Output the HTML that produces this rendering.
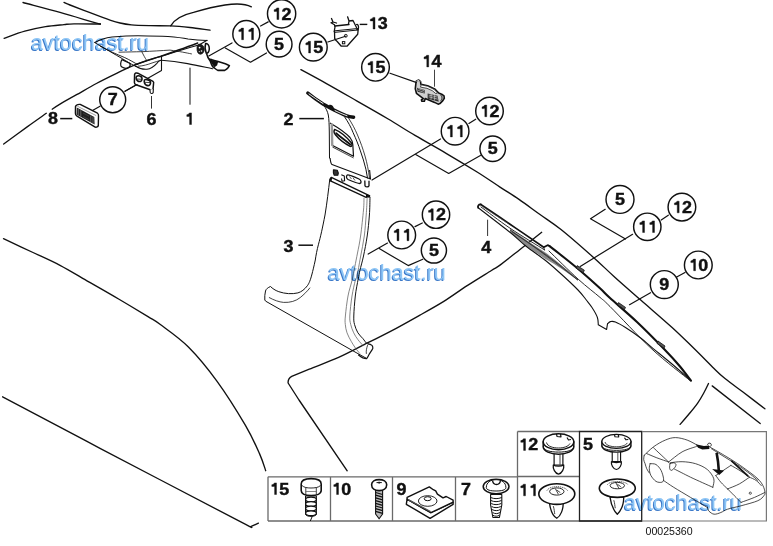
<!DOCTYPE html>
<html><head><meta charset="utf-8"><style>
html,body{margin:0;padding:0;background:#fff;}
body{width:773px;height:546px;overflow:hidden;position:relative;}
svg{position:absolute;left:0;top:0;}
.wm{position:absolute;font-family:"Liberation Sans",sans-serif;font-size:21.7px;color:#8ec6f6;text-shadow:-1px 1px 0 #3b79c9;white-space:nowrap;line-height:1;mix-blend-mode:multiply;}
</style></head><body>
<svg width="773" height="546" viewBox="0 0 773 546" font-family="Liberation Sans, sans-serif">

<g fill="none" stroke="#111" stroke-width="1.35" stroke-linecap="round" stroke-linejoin="round">
<path d="M23.0,2.5 C29.2,4.2 47.9,9.0 60.0,12.4 C72.1,15.8 89.0,21.0 95.7,22.9 C102.4,24.8 99.6,23.8 100.4,24.0"/>
<path d="M4.1,38.3 C7.6,37.1 17.9,33.1 24.8,31.2 C31.7,29.3 39.0,27.8 45.5,26.7 C52.0,25.6 59.2,25.1 64.0,24.6 C68.8,24.1 67.9,24.0 74.0,23.9 C80.1,23.8 96.0,24.0 100.4,24.0"/>
<path d="M64.0,2.4 C65.0,2.8 65.7,3.3 70.0,5.0 C74.3,6.7 83.2,10.0 90.0,12.6 C96.8,15.2 105.7,18.6 110.7,20.3 C115.7,22.0 116.5,22.2 120.0,23.0 C123.5,23.8 126.4,24.4 131.4,24.8 C136.4,25.2 143.4,25.4 150.0,25.6 C156.6,25.8 164.0,25.6 170.7,25.9 C177.4,26.2 183.4,26.8 190.0,27.5 C196.6,28.2 206.7,29.8 210.0,30.2"/>
<path d="M170.7,25.9 C174,20 182,15 193.5,12.4 C205,9 215,6.5 225,5 C238,3 246,4 251.4,6.8"/>
<path d="M3.7,144.0 C7.7,141.1 20.4,131.7 27.5,126.6 C34.6,121.5 43.2,115.5 46.3,113.3"/>
<path d="M52.2,109.2 C53.5,108.3 56.1,106.4 60.0,104.1 C63.9,101.8 69.6,98.6 75.7,95.2 C81.8,91.8 89.5,87.2 96.4,83.5 C103.3,79.8 110.7,76.2 117.1,73.1 C123.5,70.0 127.6,67.7 135.0,64.8 C142.4,61.9 154.2,58.4 161.7,55.9 C169.2,53.4 174.0,51.6 180.0,49.5 C186.0,47.4 194.8,44.1 197.7,43.0"/>
<path d="M300.9,69.6 C305.1,71.9 316.6,78.0 326.0,83.3 C335.4,88.5 346.7,95.1 357.1,101.1 C367.5,107.0 378.6,113.3 388.2,119.0 C397.8,124.7 405.4,129.7 415.0,135.4 C424.6,141.1 435.8,147.2 446.1,153.3 C456.5,159.4 468.1,166.4 477.1,172.0 C486.1,177.6 493.0,182.5 500.0,187.1 C507.0,191.7 512.3,194.8 519.0,199.4 C525.7,204.0 533.0,209.5 540.0,214.5 C547.0,219.5 552.3,222.6 561.0,229.5 C569.7,236.4 583.3,248.4 592.1,256.2 C600.9,264.0 605.9,269.1 614.0,276.5 C622.1,283.9 631.3,291.8 641.0,300.3 C650.7,308.8 663.3,319.5 672.1,327.5 C680.9,335.5 686.8,341.5 693.8,348.3 C700.8,355.1 708.8,363.4 714.0,368.5 C719.2,373.6 720.1,374.6 725.0,378.6 C729.9,382.6 736.6,387.3 743.3,392.3 C749.9,397.3 761.3,406.1 764.9,408.8"/>
<path d="M3.5,238.7 C8.4,241.0 23.6,248.1 33.0,252.5 C42.4,256.9 50.6,260.4 60.0,265.3 C69.4,270.2 79.5,276.5 89.3,282.1 C99.1,287.7 108.8,293.2 118.6,299.0 C128.4,304.8 141.1,312.4 148.0,316.6 C154.9,320.8 153.3,319.2 160.0,324.3 C166.7,329.4 178.9,337.5 188.4,347.0 C197.9,356.5 207.4,368.1 216.9,381.1 C226.4,394.1 238.2,413.1 245.3,425.2 C252.4,437.3 256.1,446.0 259.5,453.6 C262.9,461.2 264.7,467.9 265.7,470.7"/>
<path d="M2.6,396.8 C18.8,405.4 61.1,427.9 100.0,448.3 C138.9,468.7 210.9,506.3 236.0,519.4 C261.1,532.5 248.2,525.5 250.7,526.7 L258.4,523.1"/>
<path d="M541.7,232.3 C538.1,235.2 527.0,244.0 520.0,249.5 C513.0,255.0 504.8,261.6 500.0,265.1 C495.2,268.6 496.8,267.1 491.4,270.5 C486.0,273.9 475.5,280.2 467.6,285.4 C459.7,290.5 451.7,296.4 443.8,301.4 C435.9,306.3 429.0,310.1 420.0,315.1 C411.0,320.2 398.7,327.1 390.0,331.7 C381.3,336.3 376.5,338.4 367.9,342.7 C359.3,347.0 348.4,353.0 338.6,357.4 C328.8,361.8 317.1,365.9 309.3,369.1 C301.5,372.3 294.6,375.2 291.7,376.4 Q287.8,378.5 288.1,383 L299,400 L347.2,470.8"/>
<path d="M712.2,385.9 L760.2,423.5"/>
<path d="M708.5,383.5 C707.7,385.2 705.3,390.2 703.5,393.5 C701.7,396.8 699.9,399.9 697.5,403.3 C695.1,406.7 691.9,410.5 689.0,414.0 C686.1,417.5 681.6,422.7 680.1,424.4"/>
</g>
<g fill="none" stroke="#111" stroke-width="1.1" stroke-linecap="round" stroke-linejoin="round">
<path d="M95,42.5 C100,39.5 105,37.8 112,37 C122,36.2 130,35.8 138,35.8 C150,36 160,36.2 168,36.5 C178,37.3 183,38 188,39 C196,40 201,40.3 207,40.5"/>
<path d="M94.6,42.5 C105,48.5 115,54.5 122.4,58.7 C126,61 130,63.5 135.5,66.3" stroke-width="1.0"/>
<path d="M100.4,46.4 C108,50.5 116,54 124.3,57.4 C130,60 134,62.5 138,64.8" stroke-width="0.9"/>
<path d="M135.5,66 C139,68.5 143,69.5 147,69.2 C151,68.8 154,66.5 156.6,63.6 C158,61.5 159,60.5 161.5,60"/>
<path d="M138.6,66.2 C143,66 148,64.5 152,63 C155,62 158,61 160.4,60.5" stroke-width="0.8"/>
<path d="M134.5,65.1 C145,61.5 152,58.5 160.4,56.8 C175,52 188,48 199.5,44.8 L207,40.3"/>
<path d="M119,52.2 C128,52 135,51.8 141.8,51.7 C152,51.2 162,50.6 170,50.1 C180,51.5 186,52.8 191.5,53.9" stroke-width="0.8"/>
<path d="M141.8,51.7 C143.5,55 145,58 146.4,60" stroke-width="0.8"/>
<path d="M161.5,56 L161.5,70.5 L125,91.3"/>
<path d="M161.5,60.3 C170,60.8 178,61.8 187.6,63.6 C196,65.2 204,67 212.5,68.8"/>
<path d="M122,59.6 L129.6,63.2 C130.6,64.5 130,66.5 128.6,67.6 C127,68.6 124,68.4 121.5,66.8 C120.3,65.5 120.3,62 122,59.6 Z" stroke-width="1.2"/>
</g>
<path d="M198.2,44.5 C200.5,43.5 203.5,45 204,48 C204.5,51.5 203,54 200.5,54.2 C198,54.3 197,51.5 197,48.5 C197,46.5 197.4,45.2 198.2,44.5 Z" fill="#1a1a1a" stroke="#111" stroke-width="0.8"/>
<circle cx="199.6" cy="47.6" r="0.9" fill="#fff"/><circle cx="201.5" cy="51" r="0.8" fill="#fff"/><circle cx="199.3" cy="51.6" r="0.6" fill="#ddd"/>
<path d="M205.6,43.6 C207.8,43.2 209.4,45.5 209.3,48.8 C209.2,51.8 207.8,53.4 206.3,53.3 C205,50.5 204.8,46.5 205.6,43.6 Z" fill="#fff" stroke="#111" stroke-width="1.5"/>
<path d="M206.6,53.6 C207.3,56.5 208.5,59 210.2,61 C211,63 211.6,64.8 212.2,65.8 C213,67 213.6,67.5 214.4,68 C216,69.4 217,70 218.1,70.4 L224.7,70.4 C226.3,69.6 227.4,68.6 228,67.8 L229.4,65.6 C228,64.8 226.6,64.2 225.3,63.7 L218.1,61.6 C216,61.1 214.8,60.7 213.5,60.3 C212,59.9 211,59.5 210.2,59" fill="#fff" stroke="#111" stroke-width="1.6" stroke-linejoin="round"/>
<path d="M207.8,56.5 L210.5,59.6 L214,60.8 L218,61.9 L217.2,65.2 L214.6,67.2 L212.6,65 L210.4,61.2 Z" fill="#111"/>

<path d="M75.5,106.5 C76,105 78,104.2 80.2,104.4 L97.5,113.2 C98.3,113.8 98.6,115 98.5,116 L98.3,125.5 C98,126.8 96.5,127.6 95.2,127.2 L77,116.2 C75.8,115.5 75.3,114.5 75.4,113.2 Z" fill="#fff" stroke="#111" stroke-width="1.4" stroke-linejoin="round"/>
<path d="M76.8,107.6 L94.3,116.9 L94.6,124.4 L76.5,114.6 Z" fill="#1e1e1e"/>
<path d="M78.3,108.8 L78.3,115.2 M80.8,110.2 L80.8,116.6 M90.8,115.5 L90.8,122.3 M93,116.7 L93,123.6" stroke="#888" stroke-width="0.7"/>
<path d="M83,113 L89,116.2 M83,116.5 L89,119.7" stroke="#555" stroke-width="0.6"/>
<path d="M77.3,106.2 L96.2,115.6" fill="none" stroke="#777" stroke-width="0.7"/>
<path d="M134.6,74.5 C135,73 136.5,72.6 137.8,73.2 L153,81.3 C153.8,81.8 153.8,83 153.5,84 L153,89.3 C152.8,90 151.8,90.3 151,90 L136,84.8 C135,84.4 134.4,83.5 134.4,82.5 Z" fill="#fff" stroke="#111" stroke-width="1.5" stroke-linejoin="round"/>
<path d="M136.5,76.5 C137.5,75.5 140,76 141.5,77 C142.5,78.5 142,81 140.5,81.5 C138.5,81.8 136.8,80.5 136.3,79 C136,78 136,77 136.5,76.5 Z M144.5,80 C145.5,79 148.5,79.8 150,81 C151,82.5 150.5,85 149,85.5 C147,85.8 145,84.5 144.5,83 C144.2,82 144,81 144.5,80 Z" fill="none" stroke="#111" stroke-width="1.6"/>
<path d="M137,79 L141.5,79.3 M145,82.3 L150,82.6" stroke="#111" stroke-width="0.8"/>
<path d="M150,89.5 L150.2,92.5 C150.5,93.8 152.8,93.8 153.2,92.5 L153.3,89" fill="#fff" stroke="#111" stroke-width="1.1"/>
<g fill="none" stroke="#111" stroke-width="1.3" stroke-linejoin="round" stroke-linecap="round">
<path d="M334.5,31.5 L334.7,38.4 C335.5,40 336.5,41 337.2,41.5 L341.3,46.2 L347,46.2 L357.7,34.3 L358.2,29.4"/>
<path d="M335,26 L349,24.5"/>
<path d="M335,30.8 L358,28.5 M335.3,32.3 L357.8,30" stroke-width="1"/>
<path d="M331.5,18.5 L333,22 L331,22.8 L334.5,24.8 L335,27 L334.2,31.5 M333,22 L336.5,23"/>
<path d="M347.6,16.8 L349,21 L348.5,24 M349,21 L353,20.5 L356.5,27.5"/>
<path d="M356.6,24.5 C357.7,24 358.6,25.5 358.5,27.5 C358.4,29.5 357.5,30 356.8,29.5"/>
</g>
<circle cx="345.8" cy="35.8" r="1.4" fill="none" stroke="#111" stroke-width="1"/>
<rect x="342.4" y="41.6" width="2.4" height="2.2" fill="none" stroke="#111" stroke-width="1"/>
<path d="M415.87,83.62 L416.45,80.99 L418.80,80.11 L420.56,81.57 L420.85,84.21 L427.60,85.68 L434.63,88.90 L438.74,93.01 L441.67,94.18 L444.02,95.94 L444.31,98.29 L442.84,100.63 L439.91,103.57 L438.15,104.15 L434.63,102.39 L427.60,99.46 L425.25,98.58 L424.37,101.22 L421.73,101.10 L421.44,99.75 L423.37,98.58 L416.45,93.30 L415.28,88.90 Z" fill="#cfcfcf" stroke="#111" stroke-width="1.6" stroke-linejoin="round"/>
<path d="M421.14,84.80 L427.60,86.26 L434.05,89.37 L437.57,93.01 L435.81,93.60 L432.29,90.66 L427.01,88.32 L420.56,87.14 Z" fill="#fff" stroke="#222" stroke-width="0.8"/>
<path d="M417.04,87.73 L424.66,90.08 L424.66,93.60 L417.62,91.84 Z" fill="#2a2a2a"/>
<path d="M427.60,93.60 L437.57,95.65 L438.74,101.81 L427.60,98.87 Z" fill="#333"/>
<path d="M418.21,88.61 L424.08,90.66 M418.21,90.37 L424.08,92.42 M428.77,95.06 L437.57,97.11 M428.77,96.82 L437.86,99.17 M431.11,93.60 L431.11,99.46 M434.63,94.77 L434.63,100.63" fill="none" stroke="#ddd" stroke-width="0.6"/>
<path d="M440.50,95.35 L441.96,96.23 L441.96,99.46 L440.50,100.63" fill="none" stroke="#111" stroke-width="0.9"/>
<path d="M416.45,81.28 L418.80,80.40 L420.26,81.87" fill="none" stroke="#fff" stroke-width="0.8"/>
<path d="M307.8,93 C312,96.5 317.5,100.5 323,104 C326.5,106 329.5,107.8 333,109.5 C338,112 342,114 346,115.6 C349,116.6 351.5,117 353.6,117.3" fill="none" stroke="#111" stroke-width="3.4" stroke-linecap="round"/>
<path d="M309,93.9 C313,96.8 318,100.3 323,103.5 M335,110.6 C339,112.6 343,114.4 347,115.8" fill="none" stroke="#fff" stroke-width="0.9" stroke-linecap="round"/>
<path d="M329,105 C331,104 333.5,106 334,108.5 C334,110 332,110 330,109.4 Z" fill="#111"/>
<g fill="none" stroke="#111" stroke-width="1" stroke-linejoin="round" stroke-linecap="round">
<path d="M323.8,105.6 C326,108 327.5,111.5 328.3,115 C329,119 329.2,125 329.3,132 L329.5,158"/>
<path d="M344.9,117.3 C348,122 351,127 353.1,132.6 C356,139 358.5,145 360.4,150.9 C362.5,157 364.5,163 365.9,169.2 L367.5,178"/>
<path d="M348.5,118 C352,123.5 355,129 357.5,135 C360.5,142 363,149 365,156 C367,163 368.5,170 369.5,178" stroke-width="0.8"/>
<path d="M330.4,123.2 C337,127 345,132 350,137.5 C352,140 352.6,142 352.8,144.5 L353.5,156.2 L332.6,145.5" stroke-width="1.2"/>
<path d="M332.8,147.2 L353.3,157.8" stroke-width="0.8"/>
<path d="M331.8,124.5 L332.2,145" stroke="#999" stroke-width="2.4"/>
<path d="M334.6,129.4 C340,131.5 346.5,137 351.3,142.8 C352.6,144.6 352,146.8 350.2,146.4 C344.5,143.5 338.8,139 335.4,134.8 C334,133 333.8,130.6 334.6,129.4 Z" stroke-width="1.4"/>
<path d="M336.2,133.2 C341,137.2 346,141 350.5,144.6" stroke-width="1.8"/>
</g>
<g fill="none" stroke="#111" stroke-width="1.1" stroke-linejoin="round">
<path d="M330.1,158 C330.4,161.5 330.9,163.5 332,164.6 L370.5,179.1 L369.6,170"/>
<path d="M333.4,169.8 L337.3,170.3 C338.2,171.5 338.3,174 337.8,175.3 L334.2,175.3 C333.5,174 333.2,171.5 333.4,169.8 Z" fill="#333"/>
<path d="M341.3,174.8 L344.3,176 L344.6,180.8 L342,181.2 L341.5,178.5"/>
<path d="M347.3,175 C348.5,174.6 351,175.5 359,179 C361.5,180.2 361.5,183 360,183.5 C358,183.6 355,182.5 348,179.5 C346.2,178.5 346,176 347.3,175 Z" stroke-width="1.3"/>
<path d="M349.5,176.5 L351.5,179 M353,177.8 L355,180.5" stroke-width="0.7"/>
<path d="M364.8,180.5 L365,185.8 C366,187.3 368.5,187.3 369,185.8 L369,180.8" stroke-width="1.3"/>
</g>
<path d="M331.3,177.4 L369.3,195.6 M330.4,180.8 L366.2,197.3" fill="none" stroke="#111" stroke-width="1.3" stroke-linecap="round"/>
<path d="M330,177.2 L332.2,177.8 L331.5,181.5 L329.6,181 Z M366,194.6 L370.3,195.3 L369.8,197.5 L366,197.8 Z" fill="#111"/>
<g fill="none" stroke="#111" stroke-width="1" stroke-linejoin="round" stroke-linecap="round">
<path d="M329.8,179 C328.5,190 327,203 325,215 C322.5,228 320.5,237 318.5,244.2 C317,250 316,255 315.3,260 C314,266 312.8,271 312,274 C310.5,280 309,283.5 307.4,285.7 C304.5,289.5 301.5,291.8 297.9,292.9 C292,294.3 285,293.8 278.8,291.7 C275,290.3 272.5,288.5 270.5,286.5 C268,287.5 266,289 265.5,291 C264.8,294 264.6,297 264.8,300 L265.7,301.2 L352,350.3 L366.7,358.5"/>
<path d="M269.3,297.6 C274,300.2 279,302 283.6,302.4 C290,302.8 296,301 300.2,297.6 C304,294.5 307.5,291 309.8,288" stroke-width="0.8"/>
<path d="M370.0,197.2 C369.9,200.2 369.9,208.5 369.4,215.0 C368.9,221.5 368.2,229.2 367.2,236.0 C366.2,242.8 364.7,250.3 363.5,256.0 C362.3,261.7 360.8,266.6 359.9,270.4 C359.0,274.2 359.0,274.7 358.2,279.0 C357.4,283.3 356.0,289.8 355.3,296.0 C354.6,302.2 353.9,311.3 353.8,316.0 C353.7,320.7 353.8,321.6 354.5,324.4 C355.2,327.2 356.5,330.4 357.9,332.8 C359.3,335.2 361.6,337.0 363.0,338.7 C364.4,340.4 365.4,342.1 366.3,343.0 C367.2,343.9 367.9,343.8 368.2,343.9"/>
<path d="M367.1,198.5 C367.0,201.2 366.7,208.8 366.2,215.0 C365.7,221.2 365.2,229.0 364.3,236.0 C363.4,243.0 361.7,250.3 360.5,257.0 C359.3,263.7 357.9,272.1 357.0,276.0 C356.1,279.9 356.1,277.1 355.3,280.4 C354.5,283.7 352.9,290.1 352.0,296.0 C351.1,301.9 350.0,311.3 349.8,316.0 C349.6,320.7 350.1,321.6 350.7,324.4 C351.3,327.2 352.5,330.3 353.7,332.8 C354.9,335.3 356.3,337.5 357.9,339.6 C359.4,341.7 362.1,344.5 363.0,345.5" stroke="#666" stroke-width="0.8"/>
<path d="M364.0,198.0 C363.9,200.0 364.1,203.7 363.5,210.0 C362.9,216.3 361.6,228.8 360.6,236.0 C359.6,243.2 358.5,247.9 357.5,253.0 C356.5,258.1 355.7,262.2 354.8,266.8 C353.9,271.4 353.1,275.5 352.0,280.4 C350.9,285.3 349.1,290.1 348.0,296.0 C346.9,301.9 345.8,311.3 345.4,316.0 C344.9,320.7 345.0,321.6 345.3,324.4 C345.6,327.2 346.0,330.0 347.0,332.8 C348.0,335.6 349.8,338.8 351.2,341.3 C352.6,343.8 354.0,346.0 355.4,348.0 C356.8,350.0 358.9,352.3 359.6,353.2" stroke="#666" stroke-width="0.8"/>
<path d="M368.2,343.9 C369.5,344 371,344.6 372,345.4 C372.8,346.5 373,347.5 372.8,348.5 C371.5,351 370,352.8 368.9,354.8 C368,356.5 367.5,357.8 366.6,358.7 C364,358.8 361,357 358.5,355" stroke-width="1.2"/>
<path d="M367.5,345.5 C366.5,348.5 366,351 366.3,353.5" stroke-width="0.8"/>
</g>
<path d="M510,228.8 C525,239 535,246 545,252.2 C556,260 567,270 578.2,279.4 L578,280.6 C567,272 556,265 545,258.8 C538,254 532,250 526,245.8 C520,240.5 515,236 510,232 Z" fill="#8a8a8a"/>
<path d="M510,230 C525,240.5 540,250 560,265 L578,280 M512,231.8 C528,242.5 545,254 578,280.3" fill="none" stroke="#222" stroke-width="0.7"/>
<g fill="none" stroke="#111" stroke-linecap="round" stroke-linejoin="round">
<path d="M480.8,204.5 C486.5,208.3 504.5,220.5 515.0,227.6 C525.5,234.7 538.9,244.0 543.7,247.3 L548.1,245.1 L549.4,246" stroke-width="1.7"/>
<path d="M549.6,246.2 C551.3,247.5 554.9,250.2 560.0,254.3 C565.1,258.4 573.3,264.8 580.0,270.5 C586.7,276.2 595.0,283.7 600.0,288.3 C605.0,292.9 603.8,292.4 610.0,298.0 C616.2,303.6 628.0,313.5 637.0,322.0 C646.0,330.5 657.1,341.8 664.3,349.2 C671.5,356.6 675.6,361.2 680.0,366.5 C684.4,371.8 689.1,378.3 690.9,380.7" stroke-width="2.1"/>
<path d="M481.0,207.0 C485.8,210.5 499.4,221.0 510.0,228.2 C520.6,235.3 538.8,246.3 544.5,249.9" stroke-width="0.9"/>
<path d="M549.0,251.0 C553.9,255.7 569.7,271.5 578.2,279.2 C586.7,286.9 594.7,292.8 600.0,297.4 C605.3,301.9 601.3,297.9 610.0,306.5 C618.7,315.1 638.7,336.9 652.0,349.2 C665.3,361.5 683.7,375.3 690.0,380.5" stroke-width="0.9"/>
<path d="M478.2,207.7 C483.5,211.8 502.0,225.9 510.0,232.3 C518.0,238.7 520.2,241.5 526.1,246.2 C532.0,250.9 539.6,255.8 545.2,260.3 C550.9,264.8 554.5,268.1 560.0,273.0 C565.5,277.9 573.6,285.5 578.0,290.0 C582.4,294.5 584.0,297.1 586.3,300.0 C588.6,302.9 590.1,304.6 592.0,307.5 C593.9,310.4 596.4,314.6 597.4,317.5 C598.4,320.4 598.1,323.6 598.3,324.8 L606.6,329.4 L607.5,323.9" stroke-width="1.1"/>
<path d="M607.5,323.9 C608.0,323.5 609.2,321.9 610.5,321.6 C611.8,321.3 612.9,321.0 615.4,322.0 C617.9,323.0 621.2,324.8 625.5,327.5 C629.8,330.2 636.6,334.9 641.0,338.3 C645.4,341.7 646.8,343.3 652.0,347.6 C657.2,351.9 665.5,358.5 672.0,364.0 C678.5,369.5 687.8,377.9 690.9,380.7" stroke-width="1.1"/>
<path d="M480.8,204.5 C478.5,204.2 477.5,206.5 478.2,207.7" stroke-width="1.8"/>
<path d="M482,206.3 L508,223.5" stroke="#555" stroke-width="0.7" stroke-dasharray="1.5 1"/>
<path d="M543.7,247.3 L544.5,249.9" stroke-width="0.9"/>
</g>
<path d="M577.2,265.6 L584.3,270.2 L583.2,272.7 L576.3,268.3 Z" fill="#555" stroke="#111" stroke-width="0.8"/>
<path d="M618.5,302.6 L625.5,307.4 L624.4,309.6 L617.6,305 Z" fill="#555" stroke="#111" stroke-width="0.8"/>
<path d="M658,341 L665,346 L664,348.2 L657,343.4 Z" fill="#555" stroke="#111" stroke-width="0.8"/>
<g fill="none" stroke="#6a6a6a" stroke-width="1.3">
<path d="M268,476.8 L517.5,476.8 M268,521 L642,521 M268,476.8 L268,521 M330.5,476.8 L330.5,521 M392.5,476.8 L392.5,521 M455.5,476.8 L455.5,521"/>
<path d="M517.5,431.5 L517.5,521 M517.5,431.5 L579.5,431.5 M517.5,476.5 L579.5,476.5"/>
</g>
<g fill="none" stroke="#222" stroke-width="1.3">
<path d="M579.5,431.5 L641.7,431.5 L641.7,521 L579.5,521 Z"/>
</g>
<g fill="none" stroke="#777" stroke-width="1.2">
<path d="M642,431.6 L766.4,431.6 L766.4,521 L642,521"/>
</g>

<text x="645.5" y="535.3" font-family="Liberation Sans, sans-serif" font-size="10.6" fill="#111">00025360</text>

<g stroke="#111" fill="#fff" stroke-linejoin="round">
<path d="M305.5,496 L305.5,514.5 C307,517 315,517 316.4,514.5 L316.4,496 Z" stroke-width="1"/>
<ellipse cx="311" cy="499.5" rx="5.4" ry="2.4" stroke-width="1.3"/>
<ellipse cx="311" cy="504" rx="5.4" ry="2.4" stroke-width="1.3"/>
<ellipse cx="311" cy="508.5" rx="5.4" ry="2.4" stroke-width="1.3"/>
<ellipse cx="311" cy="513.2" rx="5.4" ry="2.4" stroke-width="1.3"/>
<path d="M312.5,515.8 L310.3,521" fill="none" stroke-width="1"/>
<path d="M301.2,484 C301.2,480.5 305.5,478.6 311.1,478.6 C316.8,478.6 321.2,480.5 321.2,484 L321.2,490.5 C321.2,493.8 316.5,495.5 311.1,495.5 C305.7,495.5 301.2,493.8 301.2,490.5 Z" stroke-width="1.6"/>
<path d="M302,485.5 C304,487.5 307,488 311,488 C315,488 318.5,487.5 320.5,485.5" fill="none" stroke-width="0.9"/>
<path d="M305.8,487.5 L305.8,494.5 M316.3,487.5 L316.3,494.5" fill="none" stroke-width="0.8"/>
<path d="M305.5,491.5 L316.5,491.5" fill="none" stroke="#666" stroke-width="0.8"/>
</g>
<g stroke="#111" fill="#fff" stroke-linejoin="round">
<path d="M375.6,490 L375.6,514 L379.1,518.8 L382.6,514 L382.6,490 Z" fill="#bbb" stroke-width="1.1"/>
<path d="M375.6,492.5 L382.6,494.5 M375.6,495.2 L382.6,497.2 M375.6,497.9 L382.6,499.9 M375.6,500.6 L382.6,502.6 M375.6,503.3 L382.6,505.3 M375.6,506 L382.6,508 M375.6,508.7 L382.6,510.7 M375.6,511.4 L382.6,513.4" fill="none" stroke-width="1.2"/>
<path d="M371.6,484.8 C371.6,481.5 375,479.6 379.1,479.6 C383.3,479.6 386.7,481.5 386.7,484.8 C386.7,488.5 383.3,490.6 379.1,490.6 C375,490.6 371.6,488.5 371.6,484.8 Z" stroke-width="1.6"/>
<path d="M376.5,482.6 L381.8,482.6 M379.1,481.6 L379.1,483.8" fill="none" stroke-width="1"/>
</g>
<g stroke="#111" fill="#fff" stroke-linejoin="round">
<path d="M406.3,504.3 L430.1,518.3 L453.1,504.4 L453.1,502.2 L430.9,512.7 L407.1,499.2 Z" stroke-width="1.4"/>
<path d="M407.1,497.4 L429.3,486.9 L433.3,489.7 L435.7,490.9 L437.4,494.1 L443,497.8 L446.2,496.5 L453.1,500.2 L453.1,502.2 L430.9,512.7 L407.1,499.2 Z" stroke-width="1.4"/>
<path d="M408,499.5 L430.5,511.5" fill="none" stroke="#555" stroke-width="1.2"/>
<ellipse cx="427.7" cy="501" rx="9.3" ry="5.3" fill="none" stroke-width="0.9"/>
<ellipse cx="427.7" cy="498.7" rx="3.5" ry="2" fill="none" stroke-width="1"/>
</g>
<g stroke="#111" fill="#fff" stroke-linejoin="round">
<path d="M490.6,494.5 L490.6,505 L492.9,517.5 L499.4,517.5 L501.8,505 L501.8,494.5 Z" stroke-width="1.1"/>
<path d="M490.7,497.5 C494,499 498,499 501.7,497.5 M490.9,500.5 C494,502 498,502 501.5,500.5 M491.2,503.5 C494,505 498,505 501.2,503.5 M491.6,506.5 C494,508 498,508 500.8,506.5 M492.1,509.5 C494.5,511 498,511 500.3,509.5 M492.6,512.5 C495,514 497.5,514 499.8,512.5 M493,515.3 C495,516.5 497.5,516.5 499.3,515.3" fill="none" stroke-width="1"/>
<ellipse cx="496.1" cy="486.5" rx="12.9" ry="7.3" stroke-width="1.5"/>
<path d="M486.3,487.5 C486.3,482.5 490.5,479.7 496.1,479.7 C501.7,479.7 505.9,482.5 505.9,487.5 C505.9,490 501.7,491 496.1,491 C490.5,491 486.3,490 486.3,487.5 Z" stroke-width="1"/>
<path d="M492.5,480.5 C493,483.5 494.5,484.5 496.5,484.5 C498.5,484.5 500,483.5 500.5,480.5" fill="none" stroke-width="1.4"/>
</g>
<g stroke="#111" fill="#fff" stroke-linejoin="round" transform="translate(558.5,433.5)">
<path d="M-4.4,20 L-4.4,31.5 L4.4,31.5 L4.4,20 Z" stroke-width="1.2"/>
<path d="M1.5,21 L1.5,31" fill="none" stroke-width="0.8"/>
<path d="M-5.2,31.5 C-5.8,35 -3.5,40 0,40.6 C3.5,40 5.8,35 5.2,31.5 C3,33 -3,33 -5.2,31.5 Z" stroke-width="1.3"/>
<path d="M-15.3,8.3 L-15.3,13 C-15.3,17.8 -8,20.7 0,20.7 C8,20.7 15.3,17.8 15.3,13 L15.3,8.3 Z" stroke-width="1.5"/>
<path d="M-15.3,13 C-15.3,17 -8,18.6 0,18.6 C8,18.6 15.3,17 15.3,13" fill="none" stroke-width="1"/>
<ellipse cx="0" cy="8.3" rx="15.3" ry="8" stroke-width="1.5"/>
<path d="M-12,9 C-11,13.2 -5,14.5 0,14.5 C5,14.5 10,13 11.5,10" fill="none" stroke-width="0.9"/>
<path d="M-2,0.4 L-1.5,3 L2.5,3.3 L2,0.4" fill="none" stroke-width="1.2"/>
<path d="M8.5,4 L10,6.5 L12.5,6" fill="none" stroke-width="1.2"/>
</g>
<g stroke="#111" fill="#fff" stroke-linejoin="round" transform="translate(616.4,434.2) scale(0.95,0.87)">
<path d="M-4.4,20 L-4.4,31.5 L4.4,31.5 L4.4,20 Z" stroke-width="1.2"/>
<path d="M1.5,21 L1.5,31" fill="none" stroke-width="0.8"/>
<path d="M-5.2,31.5 C-5.8,35 -3.5,40 0,40.6 C3.5,40 5.8,35 5.2,31.5 C3,33 -3,33 -5.2,31.5 Z" stroke-width="1.3"/>
<path d="M-15.3,8.3 L-15.3,13 C-15.3,17.8 -8,20.7 0,20.7 C8,20.7 15.3,17.8 15.3,13 L15.3,8.3 Z" stroke-width="1.5"/>
<path d="M-15.3,13 C-15.3,17 -8,18.6 0,18.6 C8,18.6 15.3,17 15.3,13" fill="none" stroke-width="1"/>
<ellipse cx="0" cy="8.3" rx="15.3" ry="8" stroke-width="1.5"/>
<path d="M-12,9 C-11,13.2 -5,14.5 0,14.5 C5,14.5 10,13 11.5,10" fill="none" stroke-width="0.9"/>
<path d="M-2,0.4 L-1.5,3 L2.5,3.3 L2,0.4" fill="none" stroke-width="1.2"/>
<path d="M8.5,4 L10,6.5 L12.5,6" fill="none" stroke-width="1.2"/>
</g>
<g stroke="#111" fill="#fff" stroke-linejoin="round">
<path d="M549.5,503.1 C550.3,509.1 552.8,516.1 556.8,518.3000000000001 C560.8,516.1 563.3,509.1 563.1999999999999,503.1 Z" stroke-width="1.3"/>
<path d="M553.3,506.1 C554.3,509.1 554.3,512.1 554.8,514.1" fill="none" stroke-width="0.8"/>
<ellipse cx="556.8" cy="494.1" rx="18" ry="10.3" stroke-width="1.6"/>
<ellipse cx="556.8" cy="491.5" rx="7.2" ry="3.6" fill="none" stroke-width="0.9"/>
<path d="M546.9,490.6 C549.6,485.3 564.0,485.3 567.6,490.6" fill="none" stroke-width="0.7" stroke-dasharray="1.2 0.8"/>
<path d="M555.3,488.6 L558.3,494.1 M556.8,490.1 L560.3,492.6" fill="none" stroke-width="0.8"/>
</g>
<g stroke="#111" fill="#fff" stroke-linejoin="round">
<path d="M610.0,497.2 C610.8,503.2 613.3,510.2 617.3,514.3 C621.3,510.2 623.8,503.2 623.6999999999999,497.2 Z" stroke-width="1.3"/>
<path d="M613.8,500.2 C614.8,503.2 614.8,506.2 615.3,508.2" fill="none" stroke-width="0.8"/>
<ellipse cx="617.3" cy="488.2" rx="18" ry="9.2" stroke-width="1.6"/>
<ellipse cx="617.3" cy="485.59999999999997" rx="7.2" ry="3.2" fill="none" stroke-width="0.9"/>
<path d="M607.4,484.7 C610.1,480.4 624.5,480.4 628.1,484.7" fill="none" stroke-width="0.7" stroke-dasharray="1.2 0.8"/>
<path d="M615.8,482.7 L618.8,488.2 M617.3,484.2 L620.8,486.7" fill="none" stroke-width="0.8"/>
</g>
<g fill="none" stroke="#111" stroke-width="0.75" stroke-linejoin="round" stroke-linecap="round"><path d="M644.2,455.3 C645.8,453.9 650.0,449.4 653.5,446.8 C657.0,444.3 661.6,441.6 665.3,440.1 C668.9,438.6 671.7,437.6 675.4,437.6 C679.0,437.6 683.5,438.8 687.2,440.1 C690.8,441.4 695.6,444.3 697.3,445.2"/><path d="M709.0,446.5 C711.6,448.0 719.4,452.4 724.2,455.3 C729.0,458.1 733.5,460.9 737.7,463.7 C741.9,466.5 746.1,469.6 749.5,472.1 C752.8,474.6 755.6,476.6 757.9,478.8 C760.1,481.1 761.8,483.3 762.9,485.6 C764.1,487.8 764.8,490.6 765.0,492.3 C765.1,494.0 765.1,494.3 763.9,495.7 C762.8,497.1 761.7,499.0 757.9,500.7 C754.1,502.4 746.1,504.4 741.0,505.8 C736.0,507.2 730.9,508.0 727.6,509.2 C724.2,510.3 723.1,511.7 720.8,512.5 C718.6,513.4 716.1,514.4 714.1,514.2 C712.1,514.0 710.2,512.3 709.0,511.2 C707.9,510.0 707.6,508.1 707.4,507.5"/><path d="M711.6,448.9 C714.0,450.3 721.3,454.9 725.9,457.8 C730.5,460.7 735.3,463.5 739.4,466.2 C743.4,468.9 747.2,471.7 750.3,474.1 C753.4,476.5 756.6,479.5 757.9,480.5"/><path d="M707.4,507.5 C704.6,505.8 696.1,500.7 690.5,497.4 C684.9,494.0 678.2,490.1 673.7,487.3 C669.2,484.5 665.3,481.6 663.6,480.5"/><path d="M644.2,455.3 C644.1,456.0 643.6,458.1 643.7,459.5 C643.8,460.9 644.5,462.1 645.1,463.7 C645.6,465.2 646.0,467.2 646.7,468.7 C647.4,470.3 648.8,472.2 649.3,472.9"/><path d="M646.7,453.6 C648.4,454.3 653.2,456.4 656.8,457.8 C660.5,459.2 666.7,461.3 668.6,462.0"/><path d="M653.5,447.7 C654.7,448.9 658.5,452.5 661.1,454.9 C663.6,457.3 667.4,460.8 668.6,462.0"/><path d="M668.6,462.0 C670.9,460.3 677.5,454.5 682.1,451.9 C686.7,449.3 694.0,447.4 696.4,446.5"/><path d="M670.0,462.8 C672.0,462.6 677.8,461.5 682.1,461.7 C686.4,461.8 691.4,462.4 695.6,463.7 C699.8,465.0 704.3,467.0 707.4,469.6 C710.4,472.1 712.9,475.9 713.8,478.8 C714.7,481.8 712.9,485.9 712.8,487.3"/><path d="M674.5,469.1 C677.2,470.4 684.2,474.1 690.5,477.2 C696.9,480.2 709.0,485.6 712.8,487.3"/><path d="M670.0,463.7 C670.6,463.5 672.7,462.7 673.7,462.8 C674.7,463.0 675.9,463.7 676.0,464.5 C676.2,465.4 675.3,466.9 674.5,467.9 C673.7,468.9 672.0,470.4 671.2,470.4 C670.3,470.4 669.8,469.0 669.6,467.9 C669.4,466.8 669.9,464.4 670.0,463.7"/><path d="M715.8,475.5 C718.3,473.8 728.4,467.0 730.9,465.4 M730.9,465.4 C732.6,466.3 738.0,469.3 741.0,471.3 C744.1,473.2 748.1,476.2 749.5,477.2 M749.5,477.2 C747.8,478.3 743.0,481.9 739.4,483.9 C735.7,485.9 729.5,488.1 727.6,488.9 M727.6,488.9 C726.4,487.8 722.8,484.5 720.8,482.2 C718.9,480.0 716.6,476.6 715.8,475.5"/><path d="M727.6,488.9 C728.7,490.1 732.1,493.4 734.3,495.7 C736.6,497.9 739.9,501.3 741.0,502.4"/><path d="M741.0,502.4 C743.3,501.6 750.6,499.0 754.5,497.4 C758.4,495.7 762.9,493.4 764.6,492.6"/><path d="M650.1,463.7 C651.1,463.8 654.2,463.4 656.0,464.5 C657.8,465.6 659.8,468.0 661.1,470.4 C662.3,472.8 663.4,476.9 663.6,478.8 C663.7,480.8 663.2,481.8 661.9,482.2 C660.6,482.6 657.8,482.5 656.0,481.4 C654.2,480.2 652.1,477.6 650.9,475.5 C649.8,473.4 649.4,470.7 649.3,468.7 C649.1,466.8 650.0,464.5 650.1,463.7"/><path d="M749.5,477.2 C750.6,477.7 754.2,479.1 756.2,480.5 C758.2,481.9 760.4,484.7 761.3,485.6"/></g>
<path d="M695.6,444.3 L704.0,446.0 L709.0,445.5 L709.4,448.9 L702.3,449.4 L698.1,447.7 Z" fill="#111"/>
<path d="M707.5,445 C707.5,443 710,442.5 711,443.8 C711.8,445 711,446.5 709.5,446.6" fill="none" stroke="#111" stroke-width="0.8"/>
<path d="M716.6,452.7 Q718.3,461.2 718.8,470.4" fill="none" stroke="#111" stroke-width="2.6"/>
<path d="M712.1,469.1 L724.2,470.4 L719.2,475.1 Z" fill="#111"/>
<path d="M731.8,461.2 L747.8,475.8" stroke="#111" stroke-width="1.8" stroke-linecap="round"/>
<circle cx="750.3" cy="493.2" r="1.1" fill="none" stroke="#111" stroke-width="0.7"/>
<g fill="none" stroke="#111" stroke-width="1.2" stroke-linecap="round" stroke-linejoin="round">
<path d="M92.5,110.5 L100,106.2"/>
<path d="M125,91.3 L137,84.6"/>
<path d="M327.8,42 L345.5,36.2"/>
<path d="M390,73.2 L416,82.4"/>
<path d="M260.6,26 L268.2,21.9"/>
<path d="M232,42.9 L208.8,55.9"/>
<path d="M225.3,48 L250.5,62.2 L266.5,53"/>
<path d="M468.9,123.4 L475.7,119.2"/>
<path d="M440.5,139 L372,180"/>
<path d="M415.7,154.6 L448.7,173.4 L480.4,155.5"/>
<path d="M415,226.6 L422.3,223"/>
<path d="M387.5,243.1 L368.2,254.1"/>
<path d="M379.2,248.6 L408.2,265.6 L422.8,259.2"/>
<path d="M605.2,209.3 L590.5,218.8 L625.5,239"/>
<path d="M632.6,234.3 L580.2,266.4"/>
<path d="M661.2,220 L668.3,215.2"/>
<path d="M676.7,277.1 L685,272.4"/>
<path d="M650.5,292.7 L629.5,304.7"/>
</g>
<path d="M151.5,96 L151.5,108.6" stroke="#333" stroke-width="1.0"/>
<path d="M190.0,67.7 L190.0,104.7" stroke="#111" stroke-width="1.0"/>
<path d="M434.5,69.7 L434.5,86.7" stroke="#444" stroke-width="1.0"/>
<path d="M487.6,219.7 L487.6,236" stroke="#333" stroke-width="1.0"/>
<path d="M60.2,118.6 L72.3,118.6" stroke="#111" stroke-width="1.5"/>
<path d="M359.7,24.4 L367.3,24.4" stroke="#111" stroke-width="1.4"/>
<path d="M299.3,118.6 L323.9,118.6" stroke="#111" stroke-width="1.5"/>
<path d="M298.4,245.2 L313,245.2" stroke="#111" stroke-width="1.5"/>
<g fill="#fff" stroke="#111" stroke-width="1.45">
<circle cx="281.6" cy="13.8" r="14.13"/>
<circle cx="246.3" cy="34" r="13.48"/>
<circle cx="279.1" cy="44.2" r="12.88"/>
<circle cx="313.3" cy="47.2" r="13.88"/>
<circle cx="375.5" cy="67.3" r="13.83"/>
<circle cx="112.7" cy="99.7" r="12.98"/>
<circle cx="489.5" cy="111" r="13.78"/>
<circle cx="455.1" cy="131.2" r="13.83"/>
<circle cx="492.7" cy="148.7" r="12.78"/>
<circle cx="436" cy="214.7" r="13.68"/>
<circle cx="401.7" cy="235" r="13.88"/>
<circle cx="433.9" cy="250.5" r="12.58"/>
<circle cx="620" cy="199.4" r="13.98"/>
<circle cx="647.3" cy="226.8" r="13.68"/>
<circle cx="681.9" cy="207.1" r="13.83"/>
<circle cx="664.3" cy="284.6" r="13.98"/>
<circle cx="698.3" cy="265" r="13.88"/>
</g>
<g font-weight="bold" font-size="16" fill="#111" stroke="#111" stroke-width="0.4">
<path transform="translate(271.63,19.50)" d="M5.1,-11.6 L7.2,-11.6 L7.2,0 L5.3,0 L5.3,-8.1 L2.5,-8.1 L2.5,-9.8 C3.7,-9.9 4.6,-10.6 5.1,-11.6 Z"/>
<text transform="translate(281.60,19.50) scale(1.12,1)">2</text>
<path transform="translate(236.33,39.70)" d="M5.1,-11.6 L7.2,-11.6 L7.2,0 L5.3,0 L5.3,-8.1 L2.5,-8.1 L2.5,-9.8 C3.7,-9.9 4.6,-10.6 5.1,-11.6 Z"/>
<path transform="translate(246.30,39.70)" d="M5.1,-11.6 L7.2,-11.6 L7.2,0 L5.3,0 L5.3,-8.1 L2.5,-8.1 L2.5,-9.8 C3.7,-9.9 4.6,-10.6 5.1,-11.6 Z"/>
<text transform="translate(274.12,49.90) scale(1.12,1)">5</text>
<path transform="translate(303.33,52.90)" d="M5.1,-11.6 L7.2,-11.6 L7.2,0 L5.3,0 L5.3,-8.1 L2.5,-8.1 L2.5,-9.8 C3.7,-9.9 4.6,-10.6 5.1,-11.6 Z"/>
<text transform="translate(313.30,52.90) scale(1.12,1)">5</text>
<path transform="translate(365.53,73.00)" d="M5.1,-11.6 L7.2,-11.6 L7.2,0 L5.3,0 L5.3,-8.1 L2.5,-8.1 L2.5,-9.8 C3.7,-9.9 4.6,-10.6 5.1,-11.6 Z"/>
<text transform="translate(375.50,73.00) scale(1.12,1)">5</text>
<text transform="translate(107.72,105.40) scale(1.12,1)">7</text>
<path transform="translate(479.53,116.70)" d="M5.1,-11.6 L7.2,-11.6 L7.2,0 L5.3,0 L5.3,-8.1 L2.5,-8.1 L2.5,-9.8 C3.7,-9.9 4.6,-10.6 5.1,-11.6 Z"/>
<text transform="translate(489.50,116.70) scale(1.12,1)">2</text>
<path transform="translate(445.13,136.90)" d="M5.1,-11.6 L7.2,-11.6 L7.2,0 L5.3,0 L5.3,-8.1 L2.5,-8.1 L2.5,-9.8 C3.7,-9.9 4.6,-10.6 5.1,-11.6 Z"/>
<path transform="translate(455.10,136.90)" d="M5.1,-11.6 L7.2,-11.6 L7.2,0 L5.3,0 L5.3,-8.1 L2.5,-8.1 L2.5,-9.8 C3.7,-9.9 4.6,-10.6 5.1,-11.6 Z"/>
<text transform="translate(487.72,154.40) scale(1.12,1)">5</text>
<path transform="translate(426.03,220.40)" d="M5.1,-11.6 L7.2,-11.6 L7.2,0 L5.3,0 L5.3,-8.1 L2.5,-8.1 L2.5,-9.8 C3.7,-9.9 4.6,-10.6 5.1,-11.6 Z"/>
<text transform="translate(436.00,220.40) scale(1.12,1)">2</text>
<path transform="translate(391.73,240.70)" d="M5.1,-11.6 L7.2,-11.6 L7.2,0 L5.3,0 L5.3,-8.1 L2.5,-8.1 L2.5,-9.8 C3.7,-9.9 4.6,-10.6 5.1,-11.6 Z"/>
<path transform="translate(401.70,240.70)" d="M5.1,-11.6 L7.2,-11.6 L7.2,0 L5.3,0 L5.3,-8.1 L2.5,-8.1 L2.5,-9.8 C3.7,-9.9 4.6,-10.6 5.1,-11.6 Z"/>
<text transform="translate(428.92,256.20) scale(1.12,1)">5</text>
<text transform="translate(615.02,205.10) scale(1.12,1)">5</text>
<path transform="translate(637.33,232.50)" d="M5.1,-11.6 L7.2,-11.6 L7.2,0 L5.3,0 L5.3,-8.1 L2.5,-8.1 L2.5,-9.8 C3.7,-9.9 4.6,-10.6 5.1,-11.6 Z"/>
<path transform="translate(647.30,232.50)" d="M5.1,-11.6 L7.2,-11.6 L7.2,0 L5.3,0 L5.3,-8.1 L2.5,-8.1 L2.5,-9.8 C3.7,-9.9 4.6,-10.6 5.1,-11.6 Z"/>
<path transform="translate(671.93,212.80)" d="M5.1,-11.6 L7.2,-11.6 L7.2,0 L5.3,0 L5.3,-8.1 L2.5,-8.1 L2.5,-9.8 C3.7,-9.9 4.6,-10.6 5.1,-11.6 Z"/>
<text transform="translate(681.90,212.80) scale(1.12,1)">2</text>
<text transform="translate(659.32,290.30) scale(1.12,1)">9</text>
<path transform="translate(688.33,270.70)" d="M5.1,-11.6 L7.2,-11.6 L7.2,0 L5.3,0 L5.3,-8.1 L2.5,-8.1 L2.5,-9.8 C3.7,-9.9 4.6,-10.6 5.1,-11.6 Z"/>
<text transform="translate(698.30,270.70) scale(1.12,1)">0</text>
<text transform="translate(48.02,124.30) scale(1.12,1)">8</text>
<text transform="translate(146.42,124.50) scale(1.12,1)">6</text>
<path transform="translate(184.30,124.50)" d="M5.1,-11.6 L7.2,-11.6 L7.2,0 L5.3,0 L5.3,-8.1 L2.5,-8.1 L2.5,-9.8 C3.7,-9.9 4.6,-10.6 5.1,-11.6 Z"/>
<path transform="translate(367.80,29.00)" d="M5.1,-11.6 L7.2,-11.6 L7.2,0 L5.3,0 L5.3,-8.1 L2.5,-8.1 L2.5,-9.8 C3.7,-9.9 4.6,-10.6 5.1,-11.6 Z"/>
<text transform="translate(377.77,29.00) scale(1.12,1)">3</text>
<path transform="translate(421.50,66.90)" d="M5.1,-11.6 L7.2,-11.6 L7.2,0 L5.3,0 L5.3,-8.1 L2.5,-8.1 L2.5,-9.8 C3.7,-9.9 4.6,-10.6 5.1,-11.6 Z"/>
<text transform="translate(431.47,66.90) scale(1.12,1)">4</text>
<text transform="translate(283.52,124.60) scale(1.12,1)">2</text>
<text transform="translate(283.52,252.00) scale(1.12,1)">3</text>
<text transform="translate(481.32,253.20) scale(1.12,1)">4</text>
<path transform="translate(269.30,494.50)" d="M5.1,-11.6 L7.2,-11.6 L7.2,0 L5.3,0 L5.3,-8.1 L2.5,-8.1 L2.5,-9.8 C3.7,-9.9 4.6,-10.6 5.1,-11.6 Z"/>
<text transform="translate(279.27,494.50) scale(1.12,1)">5</text>
<path transform="translate(331.30,494.50)" d="M5.1,-11.6 L7.2,-11.6 L7.2,0 L5.3,0 L5.3,-8.1 L2.5,-8.1 L2.5,-9.8 C3.7,-9.9 4.6,-10.6 5.1,-11.6 Z"/>
<text transform="translate(341.27,494.50) scale(1.12,1)">0</text>
<text transform="translate(396.62,495.30) scale(1.12,1)">9</text>
<text transform="translate(461.02,494.60) scale(1.12,1)">7</text>
<path transform="translate(518.30,495.80)" d="M5.1,-11.6 L7.2,-11.6 L7.2,0 L5.3,0 L5.3,-8.1 L2.5,-8.1 L2.5,-9.8 C3.7,-9.9 4.6,-10.6 5.1,-11.6 Z"/>
<path transform="translate(528.27,495.80)" d="M5.1,-11.6 L7.2,-11.6 L7.2,0 L5.3,0 L5.3,-8.1 L2.5,-8.1 L2.5,-9.8 C3.7,-9.9 4.6,-10.6 5.1,-11.6 Z"/>
<path transform="translate(518.30,450.40)" d="M5.1,-11.6 L7.2,-11.6 L7.2,0 L5.3,0 L5.3,-8.1 L2.5,-8.1 L2.5,-9.8 C3.7,-9.9 4.6,-10.6 5.1,-11.6 Z"/>
<text transform="translate(528.27,450.40) scale(1.12,1)">2</text>
<text transform="translate(583.02,450.40) scale(1.12,1)">5</text>
</g>
</svg>
<div class="wm" style="left:31px;top:32.1px">avtochast.ru</div>
<div class="wm" style="left:327.8px;top:261.6px">avtochast.ru</div>
<div class="wm" style="left:624px;top:491.6px">avtochast.ru</div>
</body></html>
